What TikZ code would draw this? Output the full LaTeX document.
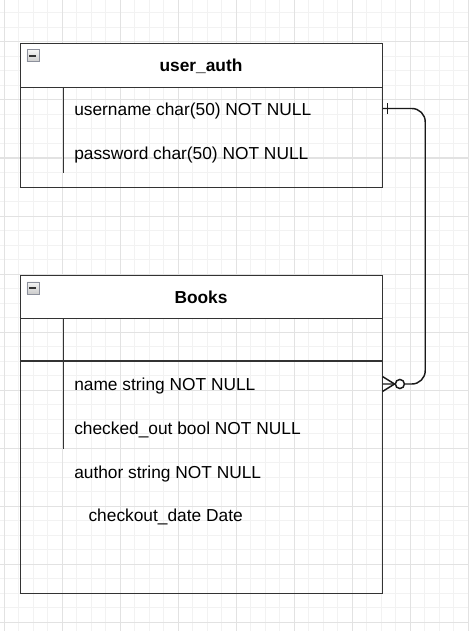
\documentclass[tikz,border=0pt]{standalone}
\usepackage{fontspec}
\setmainfont{Liberation Sans}
\definecolor{gminor}{HTML}{F2F2F2}
\definecolor{gmajor}{HTML}{E2E2E2}
\definecolor{edge}{HTML}{333333}
\definecolor{tgborder}{HTML}{8C909C}
\tikzset{
  minorline/.style={draw=gminor, line width=0.75pt},
  majorline/.style={draw=gmajor, line width=0.75pt},
  tablebox/.style={draw=edge, line width=1.1pt, rectangle, inner sep=0pt, anchor=north west, minimum width=362*0.75pt},
  headbox/.style={fill=white, draw=edge, line width=1.1pt, rectangle, inner sep=0pt, anchor=north west, minimum width=362*0.75pt},
  port/.style={rectangle, inner sep=0pt, minimum width=362*0.75pt, minimum height=43*0.75pt, anchor=west},
  title/.style={font=\fontsize{13}{16}\selectfont\bfseries, inner sep=0pt, anchor=base},
  field/.style={font=\fontsize{13}{16}\selectfont, inner sep=0pt, anchor=base west},
  rule/.style={draw=edge, line width=1.1pt},
  link/.style={draw=black!90, line width=1.1pt},
  toggle/.style={rectangle, draw=tgborder, line width=0.6pt, top color=gray!8, bottom color=gray!40, minimum width=9pt, minimum height=9pt, inner sep=0pt, anchor=north west},
}
\begin{document}
\begin{tikzpicture}[x=0.75pt, y=-0.75pt]
\useasboundingbox (0,0) rectangle (468,631);
% grid
\foreach \i in {0,...,32} { \draw[minorline] ({4.3+14.5*\i},0) -- ({4.3+14.5*\i},631); }
\foreach \i in {0,...,43} { \draw[minorline] (0,{13+14.5*\i}) -- (468,{13+14.5*\i}); }
\foreach \i in {0,...,8} { \draw[majorline] ({4.3+58*\i},0) -- ({4.3+58*\i},631); }
\foreach \i in {0,...,10} { \draw[majorline] (0,{42+58*\i}) -- (468,{42+58*\i}); }

% user_auth table
\node[tablebox, minimum height=144*0.75pt] (ua) at (20,43) {};
\node[headbox, minimum height=44*0.75pt] (uah) at (20,43) {};
\node[toggle] (uat) at (26.5,49.5) {};
\draw[edge, line width=1.1pt] ([xshift=-2.6pt]uat.center) -- ([xshift=2.6pt]uat.center);
\node[title] (uatitle) at (201,71.7) {user\_auth};
\draw[rule] (63.5,87) -- (63.5,173);
\node[port] (r1) at (20,108.5) {};
\node[field] (f1) at (74,115.3) {username char(50) NOT NULL};
\node[field] (f2) at (74,159.3) {password char(50) NOT NULL};

% Books table
\node[tablebox, minimum height=318*0.75pt] (bk) at (20,275) {};
\node[headbox, minimum height=43*0.75pt] (bkh) at (20,275) {};
\node[toggle] (bkt) at (26.5,281.5) {};
\draw[edge, line width=1.1pt] ([xshift=-2.6pt]bkt.center) -- ([xshift=2.6pt]bkt.center);
\node[title] (bktitle) at (201,303.3) {Books};
\draw[rule] (20,361) -- (382,361);
\draw[rule] (63.5,318) -- (63.5,449);
\node[port] (b1) at (20,384) {};
\node[field] (g1) at (74,390.7) {name string NOT NULL};
\node[field] (g2) at (74,434) {checked\_out bool NOT NULL};
\node[field] (g3) at (74,478.3) {author string NOT NULL};
\node[field] (g4) at (88.3,521) {checkout\_date Date};

% relationship
\draw[link, rounded corners=10pt] (r1.east) -- ++(42.7,0) |- (b1.east);
\draw[link] ([xshift=3.75pt,yshift=4.1pt]r1.east) -- ([xshift=3.75pt,yshift=-4.1pt]r1.east);
\draw[link] ([yshift=5.6pt]b1.east) -- ([xshift=9pt]b1.east) -- ([yshift=-5.6pt]b1.east);
\draw[link, fill=white] ([xshift=13pt]b1.east) circle[radius=3.4pt];
\end{tikzpicture}
\end{document}
